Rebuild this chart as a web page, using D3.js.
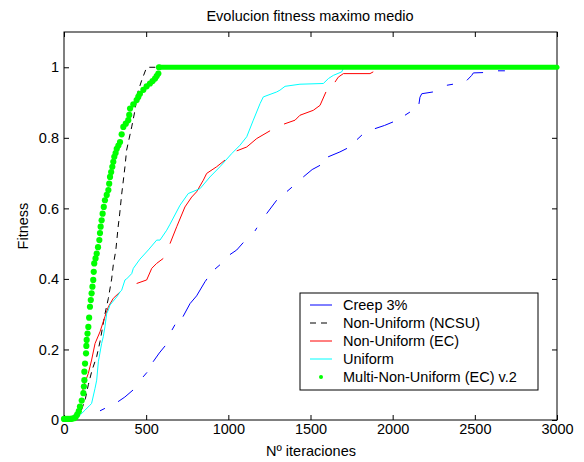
<!DOCTYPE html>
<html>
<head>
<meta charset="utf-8">
<script src="https://cdn.jsdelivr.net/npm/d3@7"></script>
<style>
  body { margin: 0; background: #fff; }
  svg { display: block; font-family: "Liberation Sans", Arial, sans-serif; }
  .tick text { font-size: 14.5px; fill: #000; }
</style>
</head>
<body>
<svg width="584" height="462"></svg>
<script>
// datos
const xTicks = [0, 500, 1000, 1500, 2000, 2500, 3000];
const xTickLabels = ["0", "500", "1000", "1500", "2000", "2500", "3000"];
const yTicks = [0, 0.2, 0.4, 0.6, 0.8, 1];
const yTickLabels = ["0", "0.2", "0.4", "0.6", "0.8", "1"];
const seriesNames = ["Creep 3%", "Non-Uniform (NCSU)", "Non-Uniform (EC)", "Uniform", "Multi-Non-Uniform (EC) v.2"];

// la curva azul aparece a trozos en la figura: cada tramo visible por separado
const creep = [
  [[219,0.026],[249,0.033]],
  [[329,0.052],[370,0.065],[420,0.085]],
  [[481,0.122],[505,0.135]],
  [[542,0.165],[580,0.19],[615,0.21]],
  [[657,0.255],[675,0.27]],
  [[724,0.293],[767,0.33],[807,0.352],[858,0.392],[870,0.4]],
  [[919,0.428],[949,0.44]],
  [[1010,0.469],[1051,0.482],[1091,0.503]],
  [[1162,0.536],[1174,0.545]],
  [[1233,0.585],[1294,0.623]],
  [[1357,0.648],[1387,0.66]],
  [[1456,0.689],[1510,0.71],[1558,0.722]],
  [[1607,0.746],[1679,0.76],[1722,0.77]],
  [[1783,0.795],[1813,0.808]],
  [[1892,0.826],[1950,0.835],[2002,0.845]],
  [[2075,0.864],[2105,0.873]],
  [[2160,0.896],[2166,0.915],[2177,0.925],[2245,0.93]],
  [[2330,0.949],[2367,0.952]],
  [[2452,0.963],[2481,0.977],[2491,0.984],[2550,0.985]],
  [[2641,0.99],[2683,0.99]]
];

const ncsu = [[0,0],[60,0.003],[100,0.02],[130,0.06],[148,0.1],[170,0.14],[199,0.18],[219,0.222],[249,0.3],[270,0.345],
  [290,0.4],[300,0.44],[315,0.48],[330,0.55],[337,0.576],[351,0.64],[371,0.718],[381,0.765],[412,0.831],[432,0.878],
  [446,0.925],[473,0.963],[499,0.995],[510,1],[3000,1]];

const ec = [
  [[110,0.07],[118,0.094],[148,0.132],[168,0.17],[189,0.217],[219,0.25],[249,0.293],[270,0.321],[300,0.345],[341,0.363]],
  [[442,0.387],[503,0.397],[534,0.43],[564,0.444],[604,0.458]],
  [[645,0.5],[686,0.548],[736,0.604],[777,0.632],[807,0.647],[848,0.68],[868,0.699],[929,0.718],[980,0.737]],
  [[1051,0.763],[1112,0.774],[1173,0.798],[1254,0.82]],
  [[1339,0.839],[1406,0.85],[1436,0.864],[1517,0.878],[1558,0.892],[1594,0.93]],
  [[1649,0.958],[1669,0.972],[1700,0.982],[1862,0.982],[1882,0.987]]
];

const uniform = [[0,0],[37,0.002],[100,0.015],[128,0.028],[158,0.042],[168,0.047],[189,0.09],[199,0.113],[209,0.165],[229,0.217],
  [239,0.236],[249,0.264],[260,0.302],[270,0.312],[280,0.326],[321,0.349],[341,0.363],[351,0.368],[371,0.397],[381,0.4],
  [412,0.415],[422,0.43],[462,0.456],[513,0.482],[564,0.51],[584,0.51],[625,0.538],[645,0.555],[706,0.609],[756,0.642],
  [828,0.656],[888,0.689],[949,0.718],[1020,0.755],[1071,0.779],[1112,0.803],[1152,0.85],[1193,0.897],[1213,0.916],[1294,0.93],
  [1314,0.935],[1345,0.946],[1436,0.952],[1578,0.954],[1609,0.968],[1639,0.977],[1690,0.987],[1700,0.997],[1720,1],[3000,1]];

const multi = [[0,0.003],[10,0.003],[20,0.003],[30,0.003],[40,0.003],[50,0.004],[60,0.005],[70,0.008],[80,0.015],[90,0.025],
  [97,0.038],[108,0.055],[118,0.076],[121,0.095],[124,0.113],[124,0.137],[128,0.16],[134,0.189],[136,0.21],[138,0.227],
  [143,0.245],[148,0.264],[153,0.29],[158,0.321],[163,0.34],[168,0.359],[173,0.378],[178,0.397],[181,0.42],[184,0.444],
  [192,0.458],[199,0.472],[207,0.49],[215,0.51],[219,0.53],[223,0.548],[229,0.566],[235,0.585],[242,0.604],[249,0.623],
  [260,0.638],[270,0.652],[275,0.67],[280,0.689],[287,0.703],[294,0.718],[300,0.732],[306,0.746],[314,0.757],[321,0.769],
  [331,0.778],[341,0.788],[351,0.81],[361,0.831],[376,0.84],[391,0.85],[397,0.865],[402,0.883],[422,0.895],[442,0.907],
  [452,0.916],[462,0.925],[483,0.936],[503,0.946],[523,0.954],[539,0.961],[554,0.968],[564,0.975],[574,0.982],[578,1]];
const multiPlateau = [[578,1],[3000,1]];

const svg = d3.select("svg"),
  margin = {left: 64, right: 27, top: 32, bottom: 42},
  width = +svg.attr("width"),
  height = +svg.attr("height");

const x = d3.scaleLinear().domain([0, 3000]).range([margin.left, width - margin.right]);
const y = d3.scaleLinear().domain([0, 1.1]).range([height - margin.bottom, margin.top]);

const line = d3.line().x(d => x(d[0])).y(d => y(d[1]));

// ejes con marcas hacia dentro, estilo matlab
svg.append("g")
  .attr("transform", `translate(0,${y(0)})`)
  .call(d3.axisBottom(x).tickValues(xTicks).tickSizeInner(-5).tickSizeOuter(0).tickPadding(3.5)
    .tickFormat((d, i) => xTickLabels[i]))
  .call(g => g.select(".domain").remove());
svg.append("g")
  .attr("transform", `translate(0,${margin.top})`)
  .call(d3.axisTop(x).tickValues(xTicks).tickSizeInner(-5).tickSizeOuter(0).tickFormat(""))
  .call(g => g.select(".domain").remove());
svg.append("g")
  .attr("transform", `translate(${x(0)},0)`)
  .call(d3.axisLeft(y).tickValues(yTicks).tickSizeInner(-5).tickSizeOuter(0).tickPadding(5)
    .tickFormat((d, i) => yTickLabels[i]))
  .call(g => g.select(".domain").remove());
svg.append("g")
  .attr("transform", `translate(${x(3000)},0)`)
  .call(d3.axisRight(y).tickValues(yTicks).tickSizeInner(-5).tickSizeOuter(0).tickFormat(""))
  .call(g => g.select(".domain").remove());

svg.append("rect")
  .attr("x", x(0)).attr("y", margin.top)
  .attr("width", x(3000) - x(0)).attr("height", y(0) - margin.top)
  .attr("fill", "none").attr("stroke", "#000");

// curvas
svg.append("g").selectAll("path")
  .data(creep)
  .enter().append("path")
  .attr("d", line)
  .attr("fill", "none").attr("stroke", "#0000ff").attr("stroke-width", 1);
svg.append("path").datum(ncsu).attr("d", line)
  .attr("fill", "none").attr("stroke", "#000").attr("stroke-width", 1).attr("stroke-dasharray", "6,5");
svg.append("g").selectAll("path")
  .data(ec)
  .enter().append("path")
  .attr("d", line)
  .attr("fill", "none").attr("stroke", "#ff0000").attr("stroke-width", 1);
svg.append("path").datum(uniform).attr("d", line)
  .attr("fill", "none").attr("stroke", "#00ffff").attr("stroke-width", 1);

svg.append("path").datum(multiPlateau).attr("d", line)
  .attr("fill", "none").attr("stroke", "#00ff00").attr("stroke-width", 5).attr("stroke-linecap", "round");
svg.append("g").selectAll("circle")
  .data(multi)
  .enter().append("circle")
  .attr("cx", d => x(d[0]))
  .attr("cy", d => y(d[1]))
  .attr("r", 3.1)
  .attr("fill", "#00ff00");

// titulo y etiquetas
svg.append("text").attr("x", 310).attr("y", 21).attr("text-anchor", "middle")
  .style("font-size", "14.5px").text("Evolucion fitness maximo medio");
svg.append("text").attr("x", 311).attr("y", 456).attr("text-anchor", "middle")
  .style("font-size", "14.5px").text("Nº iteraciones");
svg.append("text").attr("transform", `translate(28,${(y(0) + margin.top) / 2}) rotate(-90)`)
  .attr("text-anchor", "middle").style("font-size", "14.5px").text("Fitness");

// leyenda
const legend = svg.append("g").attr("transform", "translate(300,293)");
legend.append("rect").attr("width", 238).attr("height", 97)
  .attr("fill", "#fff").attr("stroke", "#000");
const styles = [
  {stroke: "#0000ff", dash: null},
  {stroke: "#000", dash: "6,5"},
  {stroke: "#ff0000", dash: null},
  {stroke: "#00ffff", dash: null},
  {dot: true}
];
const entry = legend.selectAll("g.entry")
  .data(seriesNames)
  .enter().append("g")
  .attr("class", "entry")
  .attr("transform", (d, i) => `translate(0,${12 + i * 18})`);
entry.each(function(d, i) {
  const g = d3.select(this), s = styles[i];
  if (s.dot) {
    g.append("circle").attr("cx", 21).attr("cy", 0).attr("r", 2).attr("fill", "#00ff00");
  } else {
    g.append("line").attr("x1", 10).attr("x2", 32).attr("y1", 0).attr("y2", 0)
      .attr("stroke", s.stroke).attr("stroke-dasharray", s.dash);
  }
});
entry.append("text").attr("x", 43).attr("y", 5).style("font-size", "14.5px").text(d => d);
</script>
</body>
</html>
